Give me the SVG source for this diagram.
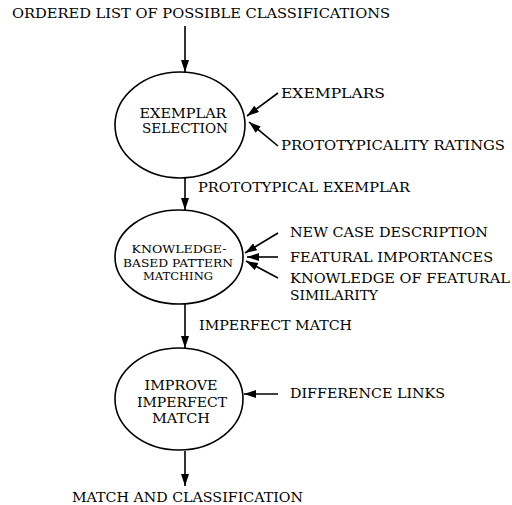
<svg xmlns="http://www.w3.org/2000/svg" width="512" height="505" viewBox="0 0 512 505">
<defs>
<marker id="ah" viewBox="0 0 12 8" refX="12" refY="4" markerWidth="12" markerHeight="8" markerUnits="userSpaceOnUse" orient="auto">
<path d="M0,0 L12,4 L0,8 Z" fill="#000"/>
</marker>
</defs>
<style>
text{font-family:"DejaVu Serif","Liberation Serif",serif;fill:#000}
.lbl{font-size:13.5px}
.in{font-size:12px;text-anchor:middle}
.sm{font-size:10.5px;text-anchor:middle}
ellipse{fill:#fff;stroke:#000;stroke-width:1.6}
.c line{stroke:#000;stroke-width:1.6;marker-end:url(#ah)}
</style>
<rect width="512" height="505" fill="#fff"/>
<g class="c" id="connectors">
<line x1="185" y1="26" x2="185" y2="72"/>
<line x1="185" y1="178" x2="185" y2="210"/>
<line x1="185" y1="304" x2="185" y2="348"/>
<line x1="185" y1="451" x2="185" y2="486"/>
<line x1="278" y1="93" x2="247" y2="116"/>
<line x1="278" y1="146" x2="249" y2="122"/>
<line x1="278" y1="233" x2="245" y2="253"/>
<line x1="278" y1="257" x2="247" y2="257"/>
<line x1="278" y1="278" x2="246" y2="261"/>
<line x1="278" y1="394" x2="244" y2="394"/>
</g>
<g id="input-top"><text class="lbl" x="12" y="18" textLength="378" lengthAdjust="spacingAndGlyphs">ORDERED LIST OF POSSIBLE CLASSIFICATIONS</text></g>
<g id="exemplar-selection">
<ellipse cx="180" cy="125" rx="65" ry="53"/>
<text class="in" x="183" y="118" textLength="87" lengthAdjust="spacingAndGlyphs">EXEMPLAR</text>
<text class="in" x="185" y="133" textLength="86" lengthAdjust="spacingAndGlyphs">SELECTION</text>
</g>
<g id="exemplars"><text class="lbl" x="281" y="98" textLength="104" lengthAdjust="spacingAndGlyphs">EXEMPLARS</text></g>
<g id="prototypicality"><text class="lbl" x="281" y="150" textLength="224" lengthAdjust="spacingAndGlyphs">PROTOTYPICALITY RATINGS</text></g>
<g id="label-proto"><text class="lbl" x="198" y="192" textLength="212" lengthAdjust="spacingAndGlyphs">PROTOTYPICAL EXEMPLAR</text></g>
<g id="pattern-matching">
<ellipse cx="179" cy="257" rx="64" ry="47"/>
<text class="sm" x="179" y="253" textLength="95" lengthAdjust="spacingAndGlyphs">KNOWLEDGE-</text>
<text class="sm" x="178" y="267" textLength="110" lengthAdjust="spacingAndGlyphs">BASED PATTERN</text>
<text class="sm" x="178" y="280" textLength="70" lengthAdjust="spacingAndGlyphs">MATCHING</text>
</g>
<g id="new-case"><text class="lbl" x="290" y="237" textLength="198" lengthAdjust="spacingAndGlyphs">NEW CASE DESCRIPTION</text></g>
<g id="featural-importances"><text class="lbl" x="290" y="262" textLength="203" lengthAdjust="spacingAndGlyphs">FEATURAL IMPORTANCES</text></g>
<g id="featural-similarity">
<text class="lbl" x="290" y="283" textLength="220" lengthAdjust="spacingAndGlyphs">KNOWLEDGE OF FEATURAL</text>
<text class="lbl" x="290" y="300" textLength="88" lengthAdjust="spacingAndGlyphs">SIMILARITY</text>
</g>
<g id="label-imperfect"><text class="lbl" x="199" y="330" textLength="153" lengthAdjust="spacingAndGlyphs">IMPERFECT MATCH</text></g>
<g id="improve-match">
<ellipse cx="179" cy="399" rx="64" ry="51"/>
<text class="in" x="181" y="390" textLength="73" lengthAdjust="spacingAndGlyphs">IMPROVE</text>
<text class="in" x="182" y="407" textLength="90" lengthAdjust="spacingAndGlyphs">IMPERFECT</text>
<text class="in" x="181" y="423" textLength="58" lengthAdjust="spacingAndGlyphs">MATCH</text>
</g>
<g id="difference-links"><text class="lbl" x="290" y="398" textLength="155" lengthAdjust="spacingAndGlyphs">DIFFERENCE LINKS</text></g>
<g id="output"><text class="lbl" x="72" y="502" textLength="231" lengthAdjust="spacingAndGlyphs">MATCH AND CLASSIFICATION</text></g>
</svg>
